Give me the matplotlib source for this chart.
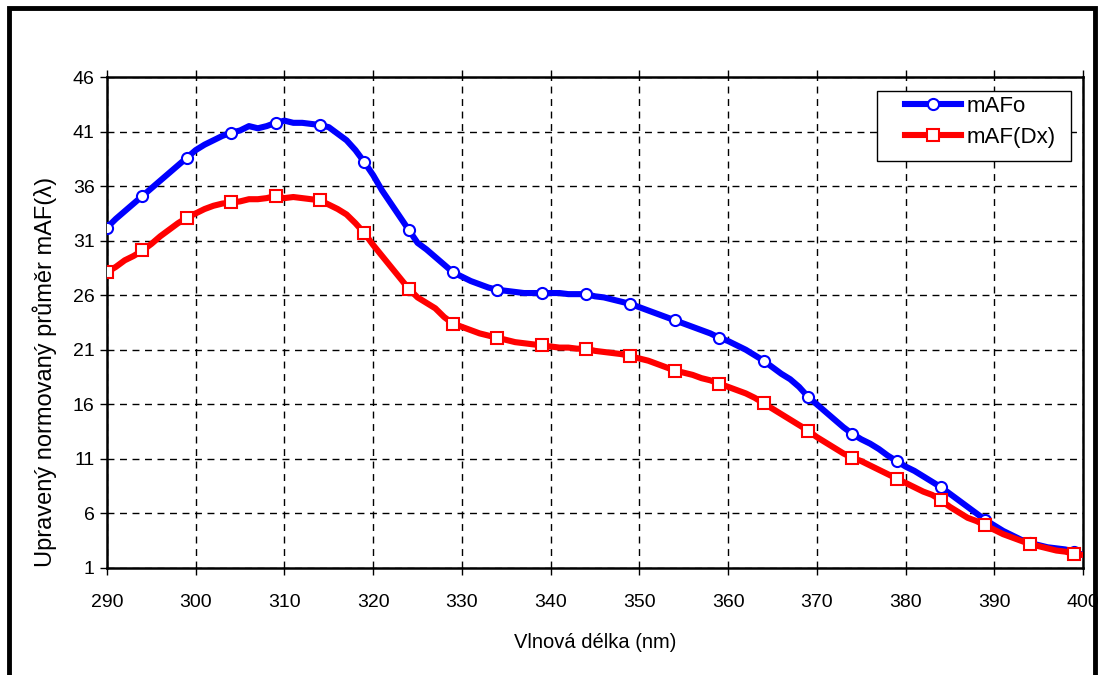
import numpy as np
import matplotlib
matplotlib.use('Agg')
from matplotlib import pyplot as plt
from matplotlib.patches import Rectangle

plt.rcParams['font.family'] = ['Liberation Sans', 'DejaVu Sans']

# wavelength 290..400 nm, one value per nm
wavelength = list(range(290, 401))

mafo = [32.2, 33.0, 33.7, 34.4, 35.1, 35.8, 36.5, 37.2, 37.9, 38.6,
        39.3, 39.8, 40.2, 40.6, 40.9, 41.1, 41.5, 41.3, 41.5, 41.8,
        42.0, 41.8, 41.8, 41.7, 41.6, 41.4, 40.8, 40.2, 39.3, 38.2,
        37.0, 35.6, 34.4, 33.2, 32.0, 30.8, 30.2, 29.5, 28.8, 28.1,
        27.7, 27.3, 27.0, 26.7, 26.5, 26.4, 26.3, 26.2, 26.2, 26.2,
        26.2, 26.2, 26.1, 26.1, 26.1, 25.9, 25.8, 25.6, 25.4, 25.2,
        24.9, 24.6, 24.3, 24.0, 23.7, 23.4, 23.1, 22.8, 22.5, 22.1,
        21.8, 21.4, 21.0, 20.5, 20.0, 19.4, 18.8, 18.3, 17.6, 16.7,
        16.0, 15.3, 14.6, 13.9, 13.3, 12.8, 12.4, 11.9, 11.3, 10.8,
        10.3, 9.9, 9.4, 8.9, 8.4, 7.8, 7.2, 6.6, 6.0, 5.4,
        4.9, 4.4, 4.0, 3.6, 3.3, 3.1, 2.9, 2.8, 2.7, 2.5,
        2.2]

maf_dx = [28.1, 28.6, 29.2, 29.6, 30.1, 30.7, 31.4, 32.0, 32.6, 33.1,
          33.5, 33.9, 34.2, 34.4, 34.5, 34.6, 34.8, 34.8, 34.9, 35.1,
          34.9, 35.0, 34.9, 34.8, 34.7, 34.3, 33.9, 33.4, 32.6, 31.7,
          30.6, 29.6, 28.6, 27.6, 26.6, 25.8, 25.3, 24.8, 24.0, 23.4,
          23.1, 22.8, 22.5, 22.3, 22.1, 21.9, 21.7, 21.6, 21.5, 21.4,
          21.3, 21.2, 21.2, 21.1, 21.1, 20.9, 20.8, 20.7, 20.6, 20.4,
          20.2, 20.0, 19.7, 19.4, 19.1, 18.9, 18.7, 18.4, 18.2, 17.9,
          17.6, 17.3, 17.0, 16.6, 16.1, 15.6, 15.1, 14.6, 14.1, 13.6,
          13.0, 12.5, 12.0, 11.5, 11.1, 10.8, 10.4, 10.0, 9.6, 9.2,
          8.8, 8.4, 8.0, 7.7, 7.2, 6.6, 6.1, 5.6, 5.3, 4.9,
          4.5, 4.1, 3.8, 3.5, 3.2, 3.0, 2.8, 2.6, 2.5, 2.3,
          2.2]

# markers shown at 290, 294, 299, ... 399
marker_idx = [0] + list(range(4, 110, 5))

xticks = list(range(290, 401, 10))
yticks = list(range(1, 47, 5))

fig = plt.figure(figsize=(11.03, 6.75), dpi=100)
ax = fig.add_axes([107/1103, 1 - 568/675, 976/1103, 491/675])

ax.plot(wavelength, mafo, color='#0000ff', lw=4.4, marker='o', ms=8,
        mfc='white', mec='#0000ff', mew=1.5, markevery=marker_idx,
        label='mAFo', zorder=3)
ax.plot(wavelength, maf_dx, color='#ff0000', lw=4.4, marker='s', ms=8,
        mfc='white', mec='#ff0000', mew=1.5, markevery=marker_idx,
        label='mAF(Dx)', zorder=4)

ax.set_xlim(290, 400)
ax.set_ylim(1, 46)
ax.set_xticks(xticks)
ax.set_yticks(yticks)
ax.grid(True, color='black', linestyle=(0, (5, 4)), lw=1)
ax.set_axisbelow(True)

for s in ax.spines.values():
    s.set_linewidth(1.8)
    s.set_color('black')

ax.tick_params(axis='both', labelsize=14, length=5, width=1, direction='out',
               color='black')
ax.tick_params(axis='x', top=True, pad=14)
ax.tick_params(axis='y', pad=4)

ax.set_xlabel('Vlnová délka (nm)', fontsize=14.5)
ax.set_ylabel('Upravený normovaný průměr mAF(λ)', fontsize=17)
ax.xaxis.set_label_coords(0.5, -0.133)
ax.yaxis.set_label_coords(-0.051, 0.40)

# legend frame drawn separately, entries placed inside it
ax.add_patch(Rectangle((0.789, 0.829), 0.199, 0.142, transform=ax.transAxes,
                       facecolor='white', edgecolor='black', lw=1, zorder=5))
leg = ax.legend(loc='upper left', bbox_to_anchor=(0.8176, 0.962),
                fontsize=16, handlelength=2.5, frameon=False,
                borderaxespad=0, borderpad=0, labelspacing=0.45,
                handletextpad=0.25)
leg.set_zorder(6)

# outer chart border
fig.patches.append(Rectangle((9/1103, -0.02), 1086/1103, 1.02 - 8/675,
                             transform=fig.transFigure, fill=False,
                             lw=3.5, edgecolor='black'))

fig.savefig('out.png', dpi=100)
